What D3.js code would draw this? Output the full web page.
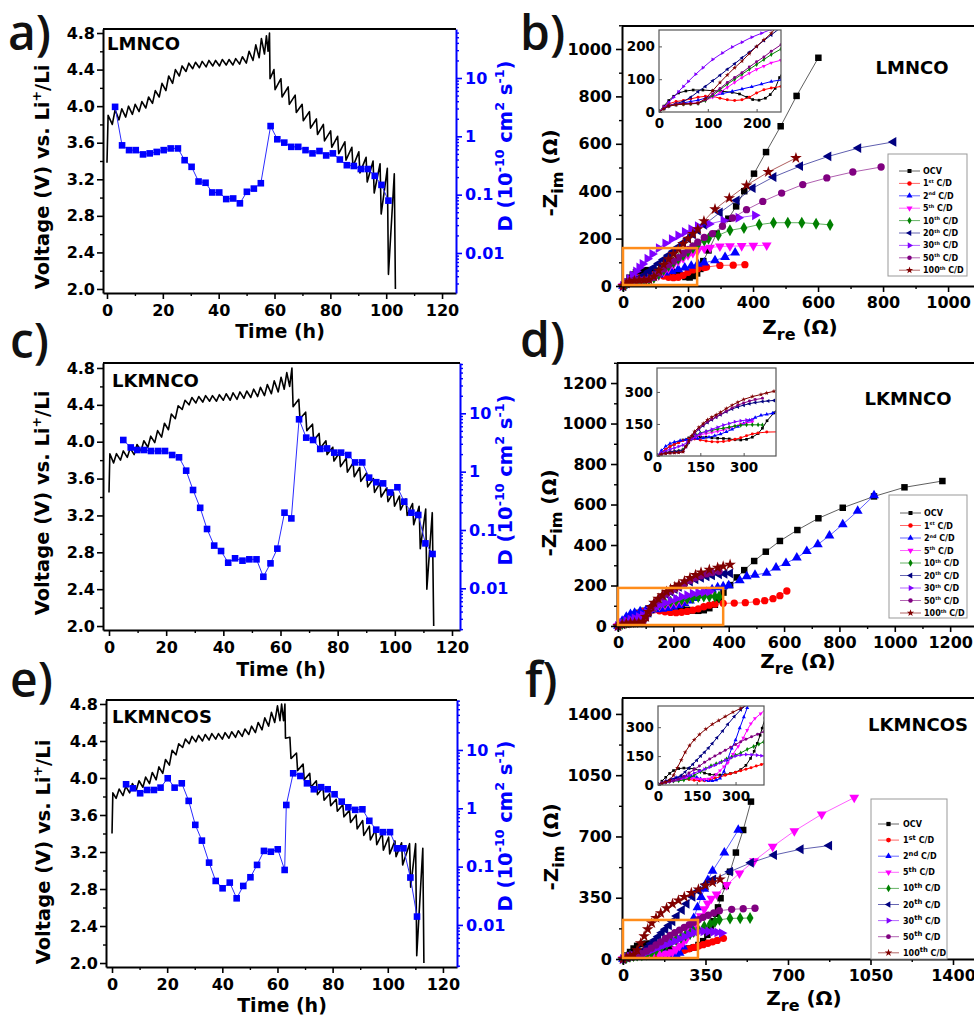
<!DOCTYPE html>
<html>
<head>
<meta charset="utf-8">
<script src="https://cdn.jsdelivr.net/npm/d3@7/dist/d3.min.js"></script>
<style>
body { margin: 0; background: #fff; }
text { font-family: "DejaVu Sans", sans-serif; font-weight: bold; }
</style>
</head>
<body>
<script>
// ---------- GITT data: [time h, voltage V] and [time h, D] ----------
var voltA = [[0,3.38],[0.4,3.90],[1.9,3.80],[2.9,3.96],[4.3,3.85],[5.3,3.97],[6.7,3.88],[7.7,4.00],[9.1,3.91],[10.1,4.02],[11.5,3.94],[12.5,4.05],[13.9,3.98],[14.9,4.10],[16.3,4.03],[17.3,4.17],[18.7,4.10],[19.7,4.25],[21.1,4.17],[22.1,4.33],[23.5,4.25],[24.5,4.40],[25.9,4.33],[26.9,4.44],[28.3,4.38],[29.3,4.47],[30.7,4.41],[31.7,4.48],[33.1,4.42],[34.1,4.49],[35.5,4.43],[36.5,4.50],[37.9,4.44],[38.9,4.50],[40.3,4.44],[41.3,4.51],[42.7,4.45],[43.7,4.51],[45.1,4.45],[46.1,4.52],[47.5,4.46],[48.5,4.54],[49.9,4.47],[50.9,4.60],[52.3,4.50],[53.3,4.67],[54.5,4.53],[55.3,4.74],[56.4,4.57],[57.1,4.77],[57.7,4.60],[58.2,4.80],[58.4,4.30],[59.8,4.40],[60.2,4.18],[62.3,4.30],[62.7,4.10],[64.9,4.21],[65.3,4.02],[67.4,4.12],[67.8,3.93],[69.9,4.02],[70.3,3.84],[72.5,3.94],[72.9,3.76],[75.0,3.86],[75.4,3.69],[77.5,3.80],[77.9,3.62],[80.1,3.73],[80.5,3.55],[82.6,3.67],[83.0,3.48],[85.2,3.61],[85.6,3.41],[87.7,3.55],[88.1,3.34],[90.2,3.50],[90.6,3.27],[92.8,3.44],[93.2,3.17],[95.3,3.40],[95.7,3.05],[97.8,3.37],[98.2,2.82],[100.4,3.32],[100.8,2.16],[102.9,3.26],[103.3,2.00]];
var diffA = [[2.9,3.2],[5.4,0.70],[7.9,0.58],[10.3,0.58],[12.9,0.49],[15.3,0.51],[17.8,0.54],[20.3,0.58],[22.8,0.62],[25.4,0.62],[27.8,0.39],[30.3,0.30],[32.8,0.168],[35.3,0.16],[37.7,0.109],[40.2,0.109],[42.7,0.084],[45.2,0.086],[47.6,0.071],[50.1,0.112],[52.6,0.127],[55.1,0.157],[58.6,1.50],[61.0,0.89],[63.5,0.78],[66.0,0.66],[68.5,0.66],[71.1,0.58],[73.6,0.51],[76.1,0.56],[78.5,0.47],[80.9,0.51],[83.4,0.40],[85.9,0.32],[88.4,0.31],[90.9,0.275],[93.4,0.275],[95.9,0.21],[98.3,0.147],[100.8,0.079]];

var voltC = [[0,3.45],[0.3,3.87],[1.6,3.77],[2.6,3.87],[4.0,3.80],[5.0,3.90],[6.4,3.83],[7.4,3.93],[8.8,3.86],[9.8,3.97],[11.2,3.90],[12.2,4.01],[13.6,3.94],[14.6,4.06],[16.0,3.99],[17.0,4.12],[18.4,4.05],[19.4,4.20],[20.8,4.13],[21.8,4.30],[23.2,4.25],[24.2,4.39],[25.6,4.35],[26.6,4.45],[28.0,4.40],[29.0,4.48],[30.4,4.42],[31.4,4.49],[32.8,4.43],[33.8,4.50],[35.2,4.44],[36.2,4.50],[37.6,4.44],[38.6,4.51],[40.0,4.45],[41.0,4.52],[42.4,4.45],[43.4,4.53],[44.8,4.46],[45.8,4.54],[47.2,4.47],[48.2,4.55],[49.6,4.48],[50.6,4.57],[52.0,4.49],[53.0,4.59],[54.4,4.50],[55.4,4.62],[56.8,4.52],[57.8,4.66],[59.2,4.54],[60.2,4.70],[61.3,4.57],[62.2,4.75],[63.2,4.60],[64.0,4.80],[64.4,4.38],[66.4,4.46],[66.8,4.25],[68.8,4.32],[69.2,4.12],[71.2,4.19],[71.6,4.01],[73.5,4.09],[73.9,3.93],[75.9,4.01],[76.3,3.86],[78.3,3.94],[78.7,3.79],[80.6,3.88],[81.0,3.73],[83.0,3.82],[83.4,3.67],[85.4,3.77],[85.8,3.62],[87.7,3.72],[88.1,3.57],[90.1,3.66],[90.5,3.51],[92.5,3.60],[92.9,3.45],[94.8,3.55],[95.2,3.40],[97.2,3.50],[97.6,3.35],[99.5,3.45],[99.9,3.30],[101.6,3.41],[102.0,3.26],[103.9,3.38],[104.3,3.20],[106.2,3.33],[106.6,3.10],[108.5,3.30],[108.9,2.84],[110.8,3.27],[111.2,2.40],[113.1,3.23],[113.6,2.00]];
var diffC = [[5.0,3.49],[7.6,2.6],[9.9,2.35],[12.3,2.35],[14.7,2.26],[17.2,2.26],[19.6,2.26],[22.1,1.93],[24.5,1.76],[27.0,1.04],[29.4,0.485],[31.9,0.24],[34.3,0.104],[36.8,0.054],[39.2,0.0436],[41.7,0.0275],[44.1,0.0327],[46.7,0.0298],[49.1,0.0314],[51.6,0.0314],[54.0,0.0158],[56.5,0.0268],[58.9,0.0479],[61.4,0.198],[63.8,0.158],[66.5,7.9],[69.0,3.83],[71.4,3.49],[73.9,2.45],[76.3,2.5],[78.8,2.12],[81.2,2.12],[83.7,1.93],[86.1,1.44],[88.6,1.44],[91.0,0.79],[93.5,0.66],[95.9,0.63],[98.4,0.44],[100.9,0.54],[103.3,0.306],[105.8,0.198],[108.2,0.181],[110.7,0.059],[113.2,0.0388]];

var voltE = [[0,3.40],[0.3,3.84],[1.5,3.78],[2.6,3.88],[4.0,3.81],[5.0,3.91],[6.4,3.84],[7.4,3.94],[8.8,3.87],[9.8,3.97],[11.2,3.90],[12.2,4.01],[13.6,3.94],[14.6,4.06],[16.0,3.98],[17.0,4.12],[18.4,4.05],[19.4,4.20],[20.8,4.14],[21.8,4.30],[23.2,4.25],[24.2,4.37],[25.6,4.33],[26.6,4.42],[28.0,4.37],[29.0,4.45],[30.4,4.39],[31.4,4.46],[32.8,4.40],[33.8,4.47],[35.2,4.41],[36.2,4.48],[37.6,4.42],[38.6,4.48],[40.0,4.42],[41.0,4.49],[42.4,4.43],[43.4,4.50],[44.8,4.44],[45.8,4.51],[47.2,4.45],[48.2,4.53],[49.6,4.47],[50.6,4.56],[52.0,4.49],[53.0,4.60],[54.4,4.52],[55.4,4.65],[56.8,4.56],[57.8,4.71],[59.0,4.60],[60.0,4.78],[60.9,4.62],[61.5,4.80],[62.2,4.62],[62.7,4.80],[62.9,4.43],[64.5,4.44],[64.9,4.21],[66.9,4.27],[67.3,4.08],[69.3,4.15],[69.7,3.98],[71.7,4.05],[72.1,3.90],[74.1,3.97],[74.5,3.82],[76.5,3.90],[76.9,3.76],[78.9,3.83],[79.3,3.70],[81.3,3.77],[81.7,3.64],[83.7,3.71],[84.1,3.58],[86.1,3.65],[86.5,3.52],[88.5,3.60],[88.9,3.45],[90.9,3.54],[91.3,3.38],[93.3,3.48],[93.7,3.33],[95.6,3.44],[96.0,3.28],[98.0,3.40],[98.4,3.22],[100.3,3.36],[100.7,3.18],[102.6,3.32],[103.0,3.15],[105.0,3.30],[105.4,3.06],[107.9,3.29],[108.3,2.82],[110.1,3.29],[110.5,2.08],[112.7,3.24],[113.1,2.00]];
var diffE = [[5.1,2.58],[7.6,2.2],[10.2,1.81],[12.7,2.06],[15.2,2.06],[17.6,2.26],[20.2,3.27],[22.7,2.26],[25.3,2.68],[27.8,1.34],[30.2,0.52],[32.6,0.279],[35.2,0.117],[37.6,0.0568],[40.1,0.0425],[42.7,0.0532],[45.2,0.0286],[47.6,0.0466],[50.2,0.0657],[52.6,0.107],[55.1,0.186],[57.6,0.18],[60.1,0.198],[62.6,0.0877],[63.2,1.14],[65.7,3.98],[68.3,3.58],[70.7,2.68],[73.2,2.12],[75.8,2.3],[78.2,2.12],[80.7,1.74],[83.3,1.30],[85.7,1.04],[88.2,0.94],[90.8,0.96],[93.3,0.61],[95.8,0.43],[98.2,0.39],[100.8,0.39],[103.3,0.206],[105.7,0.206],[108.2,0.065],[110.6,0.0139]];

var voltTicks = [2.0, 2.4, 2.8, 3.2, 3.6, 4.0, 4.4, 4.8];
var voltMinor = [2.2, 2.6, 3.0, 3.4, 3.8, 4.2, 4.6];
var timeTicks = [0, 20, 40, 60, 80, 100, 120];
var timeMinor = [10, 30, 50, 70, 90, 110];
var dTicks = [0.01, 0.1, 1, 10];
var dTickLabels = ['0.01', '0.1', '1', '10'];

// ---------- EIS data: [Zre, -Zim] in ohm ----------
var b_ocv = [[0,0],[10,18],[20,35],[30,48],[40,58],[55,64],[70,67],[90,67],[110,65],[130,63],[150,60],[165,55],[180,45],[192,38],[205,36],[218,42],[228,53],[238,72],[247,105],[263,150],[288,221],[324,284],[348,336],[373,400],[403,474],[440,565],[485,674],[534,802],[601,963]];
var b_1st = [[0,0],[10,15],[20,25],[35,32],[50,35],[65,40],[80,45],[95,48],[110,48],[125,42],[140,37],[155,35],[170,37],[185,45],[200,58],[215,68],[230,73],[250,78],[257,80],[298,87],[339,88],[375,90]];
var b_2nd = [[0,0],[10,10],[20,18],[35,24],[50,28],[65,32],[80,36],[95,42],[110,48],[130,56],[150,63],[170,70],[190,77],[210,85],[230,93],[250,98],[283,108],[314,122],[345,141]];
var b_5th = [[0,0],[10,10],[20,18],[35,22],[50,24],[65,26],[80,28],[95,35],[110,45],[125,60],[140,75],[155,90],[170,105],[185,118],[200,130],[215,140],[230,150],[250,158],[268,162],[298,167],[329,168],[365,169],[401,170],[442,172]];
var b_10th = [[0,0],[10,10],[20,18],[35,22],[50,24],[65,25],[80,26],[95,35],[110,50],[125,68],[140,85],[155,100],[170,115],[185,130],[200,145],[215,160],[230,175],[250,192],[263,200],[293,214],[329,235],[372,245],[419,259],[463,267],[507,267],[550,267],[594,263],[637,258]];
var b_20th = [[0,0],[10,12],[20,20],[35,26],[50,32],[65,45],[80,62],[95,78],[110,95],[125,112],[140,130],[155,147],[170,165],[185,182],[200,200],[215,218],[230,235],[250,258],[298,310],[350,361],[399,413],[463,460],[545,506],[632,547],[724,582],[832,608]];
var b_30th = [[0,0],[10,15],[20,30],[30,45],[40,62],[50,78],[60,93],[75,115],[90,135],[110,160],[130,180],[150,198],[170,213],[190,228],[210,240],[230,252],[265,262],[309,276],[355,288],[406,298]];
var b_50th = [[0,0],[10,12],[20,20],[35,25],[50,26],[65,26],[80,27],[95,37],[110,55],[125,72],[140,90],[155,105],[170,120],[185,137],[200,153],[215,168],[230,185],[250,205],[275,221],[306,252],[337,287],[380,322],[430,357],[488,392],[553,428],[627,456],[707,481],[794,502]];
var b_100th = [[0,0],[10,10],[20,18],[35,22],[50,24],[65,25],[80,27],[95,40],[110,65],[125,90],[140,113],[155,135],[170,155],[185,178],[200,200],[215,220],[230,240],[249,274],[283,324],[327,371],[380,425],[447,481],[532,540]];

var d_ocv = [[0,0],[15,15],[30,30],[45,45],[60,55],[75,65],[90,75],[110,85],[130,90],[150,90],[170,88],[190,85],[210,83],[230,82],[250,80],[270,76],[290,75],[310,78],[330,88],[350,105],[365,130],[381,165],[405,202],[429,240],[456,276],[492,321],[534,367],[585,420],[648,474],[724,532],[812,584],[925,640],[1035,685],[1172,716]];
var d_1st = [[0,0],[15,18],[30,32],[45,45],[60,55],[75,62],[90,72],[110,80],[130,80],[150,75],[170,70],[190,67],[210,66],[230,68],[250,72],[270,78],[290,85],[310,95],[330,103],[350,108],[380,112],[420,113],[460,115],[500,120],[530,125],[560,135],[585,150],[610,173]];
var d_2nd = [[0,0],[15,25],[30,45],[45,58],[60,65],[80,72],[100,76],[120,80],[140,82],[160,84],[180,88],[200,95],[220,103],[240,113],[260,125],[280,138],[300,152],[320,167],[340,180],[360,190],[380,195],[400,200],[440,225],[465,245],[495,252],[537,262],[571,288],[607,310],[646,337],[682,370],[722,403],[764,446],[812,502],[866,568],[925,645]];
var d_5th = [[0,0],[15,10],[30,16],[45,20],[60,22],[75,24],[90,30],[105,55],[120,78],[135,92],[150,100],[170,105],[190,110],[210,115],[230,122],[250,130],[270,140],[290,150],[310,155],[330,160]];
var d_10th = [[0,0],[15,10],[30,16],[45,20],[60,22],[75,24],[90,30],[105,55],[120,80],[135,98],[150,108],[170,115],[190,120],[210,126],[230,130],[250,135],[270,140],[290,144],[310,146],[330,146],[350,146],[365,145]];
var d_20th = [[0,0],[15,10],[30,15],[45,18],[60,20],[75,22],[90,25],[100,45],[110,65],[120,85],[130,105],[145,125],[160,142],[175,157],[190,170],[205,182],[220,193],[240,207],[260,220],[280,230],[300,238],[320,245],[340,250],[365,255],[385,258],[405,260]];
var d_30th = [[0,0],[15,15],[30,25],[45,32],[60,38],[75,45],[90,52],[105,65],[120,80],[135,95],[150,105],[170,115],[190,125],[210,135],[230,145],[250,152],[270,160],[290,165],[310,168],[330,170]];
var d_50th = [[0,0],[15,8],[30,12],[45,14],[60,15],[75,16],[90,20],[100,42],[110,65],[120,88],[130,108],[145,128],[160,145],[175,160],[190,172],[205,183],[220,195],[240,210],[260,225],[280,238],[300,248],[320,257],[340,264],[365,270]];
var d_100th = [[0,0],[15,8],[30,12],[45,14],[60,15],[75,16],[90,20],[100,45],[110,70],[120,95],[130,115],[145,135],[160,152],[175,170],[190,182],[205,193],[220,205],[240,222],[260,238],[280,252],[300,265],[330,278],[360,288],[380,295],[405,303]];

var f_ocv = [[0,0],[15,20],[30,40],[45,60],[60,75],[80,85],[100,88],[120,87],[140,84],[160,75],[180,62],[200,55],[220,52],[240,52],[260,54],[280,60],[300,66],[320,80],[340,102],[358,138],[372,175],[384,216],[395,258],[403,295],[414,347],[436,417],[454,499],[479,608],[510,737],[543,899]];
var f_1st = [[0,0],[15,12],[30,20],[45,25],[60,28],[80,30],[100,30],[120,28],[140,25],[160,22],[180,22],[200,28],[220,35],[240,42],[260,50],[280,58],[300,66],[320,74],[340,82],[360,90],[380,98],[400,106],[426,118]];
var f_2nd = [[0,0],[15,10],[30,20],[50,30],[70,38],[90,42],[110,45],[130,45],[150,40],[165,32],[180,25],[195,22],[210,22],[225,25],[240,35],[255,70],[268,129],[285,190],[300,233],[316,295],[332,353],[345,400],[360,450],[380,503],[430,608],[489,737]];
var f_5th = [[0,0],[15,8],[30,15],[50,22],[70,28],[90,32],[110,35],[130,35],[150,32],[165,30],[180,30],[195,32],[210,40],[225,55],[240,75],[255,95],[270,115],[290,160],[310,200],[330,245],[345,285],[359,318],[375,345],[397,370],[440,423],[494,490],[556,560],[635,642],[727,731],[843,827],[981,922]];
var f_10th = [[0,0],[15,8],[30,14],[45,18],[60,20],[80,22],[100,26],[120,35],[140,50],[164,69],[185,85],[205,100],[225,110],[246,121],[265,135],[285,145],[300,155],[320,166],[345,185],[370,200],[390,212],[409,224],[454,232],[497,233],[539,234]];
var f_20th = [[0,0],[15,10],[30,18],[45,25],[60,30],[75,38],[90,50],[105,68],[120,88],[135,108],[150,128],[165,150],[180,170],[195,192],[210,215],[228,245],[250,280],[270,315],[295,355],[320,390],[350,425],[383,455],[454,499],[543,550],[641,594],[754,627],[875,648]];
var f_30th = [[0,0],[15,8],[30,14],[45,18],[60,22],[80,28],[100,38],[120,50],[140,62],[160,72],[180,82],[200,92],[220,102],[240,115],[260,128],[280,140],[300,150],[320,156],[341,158],[362,157],[383,155],[400,152],[419,148]];
var f_50th = [[0,0],[15,8],[30,14],[45,18],[60,22],[80,30],[100,45],[120,62],[140,80],[160,98],[180,118],[200,135],[220,150],[240,165],[260,180],[281,196],[300,210],[320,225],[340,238],[362,250],[385,263],[409,276],[461,284],[510,287],[560,290]];
var f_100th = [[0,0],[15,8],[30,15],[45,25],[60,50],[75,90],[90,130],[105,170],[122,205],[140,235],[160,262],[185,290],[210,315],[235,335],[260,355],[290,378],[320,398],[350,420],[380,438],[412,455]];

var legendNums = ['OCV', '1', '2', '5', '10', '20', '30', '50', '100'];
var legendSups = ['', 'st', 'nd', 'th', 'th', 'th', 'th', 'th', 'th'];
var eisColors = ['#000000', '#ff0000', '#0000ff', '#ff00ff', '#008000', '#000080', '#8000ff', '#800080', '#800000'];
var eisShapes = ['square', 'circle', 'up', 'down', 'diamond', 'left', 'right', 'circle', 'star'];

// ---------- drawing ----------
var svg = d3.select('body').append('svg').attr('width', 974).attr('height', 1017);
svg.append('rect').attr('width', 974).attr('height', 1017).attr('fill', '#fff');

var symTypes = { square: d3.symbolSquare, circle: d3.symbolCircle, up: d3.symbolTriangle, down: d3.symbolTriangle,
  left: d3.symbolTriangle, right: d3.symbolTriangle, diamond: d3.symbolDiamond, star: d3.symbolStar };
var symRot = { down: 180, left: -90, right: 90 };

function marker(g, shape, area, x, y, color) {
  g.append('path').attr('d', d3.symbol().type(symTypes[shape]).size(area)())
    .attr('transform', 'translate(' + x + ',' + y + ') rotate(' + (symRot[shape] || 0) + ')')
    .attr('fill', color);
}

// text with super/subscripts; parts = [[str, 'n'|'sup'|'sub', ratio]]
function rich(t, parts, size) {
  var shift = 0;
  parts.forEach(function (p) {
    var m = p[1] || 'n';
    var off = m === 'sup' ? -size * 0.42 : m === 'sub' ? size * 0.3 : 0;
    var fs = m === 'n' ? size : size * (p[2] || 0.65);
    t.append('tspan').attr('dy', off - shift).style('font-size', fs + 'px').text(p[0]);
    shift = off;
  });
}

function axisG(gen, tr, color, fs) {
  var a = svg.append('g').attr('transform', tr).call(gen);
  a.select('.domain').attr('stroke', color).attr('stroke-width', 2);
  a.selectAll('.tick line').attr('stroke', color).attr('stroke-width', 1.6);
  a.selectAll('.tick text').attr('fill', color).style('font-size', fs + 'px');
  return a;
}
function minorG(gen, tr, color) {
  var a = svg.append('g').attr('transform', tr).call(gen);
  a.select('.domain').remove();
  a.selectAll('.tick line').attr('stroke', color).attr('stroke-width', 1.4);
  return a;
}

var logMinor = [];
[-3, -2, -1, 0, 1].forEach(function (e) {
  for (var k = 2; k <= 9; k++) logMinor.push(k * Math.pow(10, e));
});

function letter(txt, x, y) {
  svg.append('text').attr('x', x).attr('y', y).text(txt)
    .style('font-family', '"Open Sans", sans-serif').style('font-weight', '600')
    .style('font-size', '48px').attr('fill', '#111');
}

function gittPanel(p) {
  var x = d3.scaleLinear().domain(p.xDom).range([p.l, p.r]);
  var y = d3.scaleLinear().domain(p.yDom).range([p.b, p.t]);
  var yd = d3.scaleLog().domain(p.dDom).range([p.b, p.t]).clamp(true);
  var minD = logMinor.filter(function (v) { return v >= p.dDom[0] && v <= p.dDom[1]; });

  svg.append('path').datum(p.volt)
    .attr('d', d3.line().x(function (d) { return x(d[0]); }).y(function (d) { return y(d[1]); }))
    .attr('fill', 'none').attr('stroke', '#000').attr('stroke-width', 1.6).attr('stroke-linejoin', 'round');
  svg.append('path').datum(p.diff)
    .attr('d', d3.line().x(function (d) { return x(d[0]); }).y(function (d) { return yd(d[1]); }))
    .attr('fill', 'none').attr('stroke', '#2b2bff').attr('stroke-width', 1);
  svg.append('g').selectAll('rect').data(p.diff).join('rect')
    .attr('x', function (d) { return x(d[0]) - 3.3; }).attr('y', function (d) { return yd(d[1]) - 3.3; })
    .attr('width', 6.6).attr('height', 6.6).attr('fill', '#0000ff');

  axisG(d3.axisLeft(y).tickValues(voltTicks).tickFormat(d3.format('.1f')).tickSize(6).tickPadding(2).tickSizeOuter(0),
    'translate(' + p.l + ',0)', '#000', 16);
  minorG(d3.axisLeft(y).tickValues(voltMinor).tickSize(3).tickFormat(''), 'translate(' + p.l + ',0)', '#000');
  axisG(d3.axisBottom(x).tickValues(timeTicks).tickFormat(d3.format('d')).tickSize(6).tickPadding(6).tickSizeOuter(0),
    'translate(0,' + p.b + ')', '#000', 16);
  minorG(d3.axisBottom(x).tickValues(timeMinor).tickSize(3).tickFormat(''), 'translate(0,' + p.b + ')', '#000');
  axisG(d3.axisRight(yd).tickValues(dTicks).tickFormat(function (d, i) { return dTickLabels[i]; })
    .tickSize(6).tickPadding(3).tickSizeOuter(0), 'translate(' + p.r + ',0)', '#0000ff', 16);
  minorG(d3.axisRight(yd).tickValues(minD).tickSize(3).tickFormat(''), 'translate(' + p.r + ',0)', '#0000ff');
  svg.append('line').attr('x1', p.l).attr('x2', p.r).attr('y1', p.t).attr('y2', p.t)
    .attr('stroke', '#000').attr('stroke-width', 2);

  svg.append('text').attr('x', p.nameX).attr('y', p.nameY).style('font-size', '18px').text(p.name);
  var vl = svg.append('text').attr('transform', 'translate(' + p.vlab[0] + ',' + p.vlab[1] + ') rotate(-90)')
    .attr('text-anchor', 'middle').attr('dy', '0.35em');
  rich(vl, [['Voltage (V) vs. Li'], ['+', 'sup'], ['/Li', 'n']], 19.5);
  var dl = svg.append('text').attr('transform', 'translate(' + p.dlab[0] + ',' + p.dlab[1] + ') rotate(-90)')
    .attr('text-anchor', 'middle').attr('dy', '0.35em').attr('fill', '#0000ff');
  rich(dl, [['D (10'], ['-10', 'sup'], [' cm', 'n'], ['2', 'sup'], [' s', 'n'], ['-1', 'sup'], [')', 'n']], 19.5);
  svg.append('text').attr('x', p.tlab[0]).attr('y', p.tlab[1]).attr('text-anchor', 'middle')
    .style('font-size', '19px').text('Time (h)');
  letter(p.letter, p.letterXY[0], p.letterXY[1]);
}

function eisPanel(p) {
  var x = d3.scaleLinear().domain(p.xDom).range([p.l, p.r]);
  var y = d3.scaleLinear().domain(p.yDom).range([p.b, p.t]);
  var main = svg.append('g');
  p.series.forEach(function (s, i) {
    main.append('path').datum(s)
      .attr('d', d3.line().x(function (d) { return x(d[0]); }).y(function (d) { return y(d[1]); }))
      .attr('fill', 'none').attr('stroke', eisColors[i]).attr('stroke-width', 0.9).attr('stroke-opacity', 0.7);
    s.forEach(function (d) { marker(main, eisShapes[i], p.mk, x(d[0]), y(d[1]), eisColors[i]); });
  });

  axisG(d3.axisLeft(y).tickValues(p.ticks).tickFormat(d3.format('d')).tickSize(6).tickPadding(4).tickSizeOuter(0),
    'translate(' + p.l + ',0)', '#000', 16);
  minorG(d3.axisLeft(y).tickValues(p.minor).tickSize(3).tickFormat(''), 'translate(' + p.l + ',0)', '#000');
  axisG(d3.axisBottom(x).tickValues(p.ticks).tickFormat(d3.format('d')).tickSize(6).tickPadding(5).tickSizeOuter(0),
    'translate(0,' + p.b + ')', '#000', 16);
  minorG(d3.axisBottom(x).tickValues(p.minor).tickSize(3).tickFormat(''), 'translate(0,' + p.b + ')', '#000');
  svg.append('line').attr('x1', p.l).attr('x2', p.r).attr('y1', p.t).attr('y2', p.t)
    .attr('stroke', '#000').attr('stroke-width', 2);

  // zoom region
  svg.append('rect').attr('x', x(p.xDom[0]) + 1).attr('y', y(p.zoom[1]))
    .attr('width', x(p.zoom[0]) - x(p.xDom[0]) - 1).attr('height', y(0) - y(p.zoom[1]) - 1)
    .attr('fill', 'none').attr('stroke', '#ff8c1a').attr('stroke-width', 2.5);

  // inset
  var q = p.inset;
  var ix = d3.scaleLinear().domain([0, q.max]).range([q.l, q.r]);
  var iy = d3.scaleLinear().domain([0, q.max]).range([q.b, q.t]);
  svg.append('rect').attr('x', q.l).attr('y', q.t).attr('width', q.r - q.l).attr('height', q.b - q.t).attr('fill', '#fff');
  var cid = 'clip' + p.letter.charAt(0);
  svg.append('clipPath').attr('id', cid).append('rect')
    .attr('x', q.l).attr('y', q.t).attr('width', q.r - q.l).attr('height', q.b - q.t);
  var ig = svg.append('g').attr('clip-path', 'url(#' + cid + ')');
  p.series.forEach(function (s, i) {
    ig.append('path').datum(s)
      .attr('d', d3.line().x(function (d) { return ix(d[0]); }).y(function (d) { return iy(d[1]); }))
      .attr('fill', 'none').attr('stroke', eisColors[i]).attr('stroke-width', 1);
    s.forEach(function (d) { marker(ig, eisShapes[i], 7, ix(d[0]), iy(d[1]), eisColors[i]); });
  });
  svg.append('rect').attr('x', q.l).attr('y', q.t).attr('width', q.r - q.l).attr('height', q.b - q.t)
    .attr('fill', 'none').attr('stroke', '#555').attr('stroke-width', 1.2);
  var ia = svg.append('g').attr('transform', 'translate(' + q.l + ',0)')
    .call(d3.axisLeft(iy).tickValues(q.ticks).tickSize(-3).tickPadding(4).tickSizeOuter(0));
  var ib = svg.append('g').attr('transform', 'translate(0,' + q.b + ')')
    .call(d3.axisBottom(ix).tickValues(q.ticks).tickSize(-3).tickPadding(6).tickSizeOuter(0));
  [ia, ib].forEach(function (a) {
    a.select('.domain').remove();
    a.selectAll('.tick line').attr('stroke', '#555');
    a.selectAll('.tick text').attr('fill', '#000').style('font-size', '13.5px');
  });

  // legend
  var L = p.legend;
  svg.append('rect').attr('x', L.x).attr('y', L.y).attr('width', L.w).attr('height', L.h)
    .attr('fill', '#fff').attr('stroke', '#999').attr('stroke-width', 1);
  legendNums.forEach(function (nm, i) {
    var yy = L.y0 + i * L.dy;
    svg.append('line').attr('x1', L.lx[0]).attr('x2', L.lx[1]).attr('y1', yy).attr('y2', yy)
      .attr('stroke', eisColors[i]).attr('stroke-opacity', 0.6).attr('stroke-width', 1);
    marker(svg, eisShapes[i], L.mk, (L.lx[0] + L.lx[1]) / 2, yy, eisColors[i]);
    var t = svg.append('text').attr('x', L.tx).attr('y', yy + L.fs * 0.38);
    if (i === 0) rich(t, [[nm]], L.fs);
    else rich(t, [[nm], [legendSups[i], 'sup', L.sup], [' C/D', 'n']], L.fs);
  });

  svg.append('text').attr('x', p.nameXY[0]).attr('y', p.nameXY[1]).attr('text-anchor', 'middle')
    .style('font-size', '18px').text(p.name);
  var yl = svg.append('text').attr('transform', 'translate(' + p.ylab[0] + ',' + p.ylab[1] + ') rotate(-90)')
    .attr('text-anchor', 'middle').attr('dy', '0.35em');
  rich(yl, [['-Z'], ['im', 'sub', 0.8], [' (Ω)', 'n']], 20);
  var xl = svg.append('text').attr('x', p.xlab[0]).attr('y', p.xlab[1]).attr('text-anchor', 'middle');
  rich(xl, [['Z'], ['re', 'sub', 0.8], [' (Ω)', 'n']], 20);
  letter(p.letter, p.letterXY[0], p.letterXY[1]);
}

gittPanel({ l: 103, r: 456, t: 29, b: 293, xDom: [-1.43, 125], yDom: [1.956, 4.844], dDom: [0.00206, 69.2],
  volt: voltA, diff: diffA, name: 'LMNCO', nameX: 107, nameY: 50, vlab: [49, 177], dlab: [512, 146],
  tlab: [280, 338], letter: 'a)', letterXY: [8, 50] });
gittPanel({ l: 103, r: 460, t: 363, b: 630, xDom: [-2.1, 122.8], yDom: [1.957, 4.854], dDom: [0.00193, 72.9],
  volt: voltC, diff: diffC, name: 'LKMNCO', nameX: 112, nameY: 387, vlab: [49, 503], dlab: [512, 480],
  tlab: [281, 676], letter: 'c)', letterXY: [10, 358] });
gittPanel({ l: 106, r: 457, t: 700, b: 967, xDom: [-2.18, 125.1], yDom: [1.957, 4.843], dDom: [0.0019, 71.9],
  volt: voltE, diff: diffE, name: 'LKMNCOS', nameX: 112, nameY: 723, vlab: [50, 852], dlab: [512, 826],
  tlab: [282, 1012], letter: 'e)', letterXY: [10, 697] });

eisPanel({ l: 622, r: 990, t: 26, b: 286, xDom: [-3.1, 1129], yDom: [0, 1097],
  ticks: [0, 200, 400, 600, 800, 1000], minor: [100, 300, 500, 700, 900, 1100], mk: 42,
  series: [b_ocv, b_1st, b_2nd, b_5th, b_10th, b_20th, b_30th, b_50th, b_100th], zoom: [228, 160],
  inset: { l: 659, r: 781, t: 30, b: 112, max: 250, ticks: [0, 100, 200] },
  legend: { x: 888, y: 154, w: 79, h: 122, y0: 171, dy: 12.4, lx: [899, 920], tx: 923, mk: 16, fs: 8, sup: 0.6 },
  name: 'LMNCO', nameXY: [912, 74], ylab: [557, 173], xlab: [800, 334], letter: 'b)', letterXY: [520, 50] });
eisPanel({ l: 617, r: 990, t: 363, b: 626, xDom: [-3.6, 1344], yDom: [0, 1299],
  ticks: [0, 200, 400, 600, 800, 1000, 1200], minor: [100, 300, 500, 700, 900, 1100, 1300], mk: 42,
  series: [d_ocv, d_1st, d_2nd, d_5th, d_10th, d_20th, d_30th, d_50th, d_100th], zoom: [380, 188],
  inset: { l: 657, r: 776, t: 368, b: 456, max: 412, ticks: [0, 150, 300] },
  legend: { x: 889, y: 495, w: 78, h: 123, y0: 513, dy: 12.5, lx: [900, 921], tx: 924, mk: 16, fs: 8, sup: 0.6 },
  name: 'LKMNCO', nameXY: [908, 405], ylab: [556, 513], xlab: [798, 668], letter: 'd)', letterXY: [520, 357] });
eisPanel({ l: 622, r: 990, t: 698, b: 959, xDom: [-4.2, 1557], yDom: [0, 1491],
  ticks: [0, 350, 700, 1050, 1400], minor: [175, 525, 875, 1225], mk: 42,
  series: [f_ocv, f_1st, f_2nd, f_5th, f_10th, f_20th, f_30th, f_50th, f_100th], zoom: [318, 223],
  inset: { l: 658, r: 764, t: 706, b: 785, max: 410, ticks: [0, 150, 300] },
  legend: { x: 871, y: 799, w: 76, h: 160, y0: 824, dy: 16.1, lx: [878, 899], tx: 903, mk: 18, fs: 8, sup: 0.85 },
  name: 'LKMNCOS', nameXY: [918, 731], ylab: [558, 847], xlab: [804, 1005], letter: 'f)', letterXY: [525, 697] });
</script>
</body>
</html>
